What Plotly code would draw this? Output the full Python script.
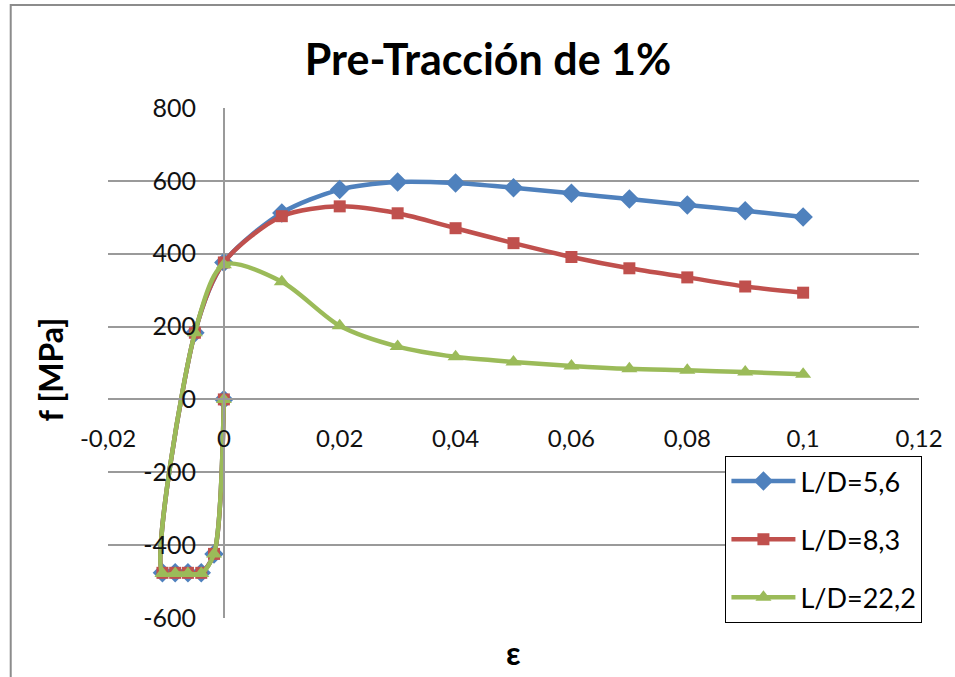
import plotly.graph_objects as go

# Strain values (the cycle starts at the origin, goes into compression,
# then reloads in tension up to 10 %)
strain = [0, -0.0017, -0.0039, -0.0062, -0.0084, -0.0106, -0.0050, 0,
          0.01, 0.02, 0.03, 0.04, 0.05, 0.06, 0.07, 0.08, 0.09, 0.10]

# Stress f [MPa] for each slenderness ratio
stress_ld_5_6 = [0, -424, -476, -476, -476, -476, 183, 376,
                 512, 576, 597, 594, 581, 566, 550, 534, 518, 501]
stress_ld_8_3 = [0, -424, -476, -476, -476, -476, 183, 376,
                 503, 530, 511, 470, 429, 391, 360, 335, 310, 293]
stress_ld_22_2 = [0, -424, -478, -478, -478, -478, 183, 370,
                  323, 202, 145, 117, 103, 92, 84, 80, 75, 69]

series_names = ["L/D=5,6", "L/D=8,3", "L/D=22,2"]
series_values = [stress_ld_5_6, stress_ld_8_3, stress_ld_22_2]
colors = ["#4F81BD", "#C0504D", "#9BBB59"]
symbols = ["diamond", "square", "triangle-up"]
marker_sizes = [15, 12, 14]

x_ticks = [-0.02, 0, 0.02, 0.04, 0.06, 0.08, 0.10, 0.12]
x_ticktext = ["-0,02", "0", "0,02", "0,04", "0,06", "0,08", "0,1", "0,12"]
y_ticks = [-600, -400, -200, 0, 200, 400, 600, 800]
y_ticktext = ["-600", "-400", "-200", "0", "200", "400", "600", "800"]

X_RANGE = [-0.02, 0.12]
Y_RANGE = [-600, 800]

FONT = "Lato"
W, H = 955, 677
ML, MR, MT, MB = 108, 30, 108, 59
plot_w = W - ML - MR
plot_h = H - MT - MB

fig = go.Figure()
for name, vals, col, sym, ms in zip(series_names, series_values, colors, symbols, marker_sizes):
    fig.add_trace(go.Scatter(
        x=strain, y=vals, name=name, mode="lines+markers",
        line=dict(color=col, width=4.5, shape="spline", smoothing=0.8),
        marker=dict(symbol=sym, size=ms, color=col),
        legendgroup=name,
    ))

# axes cross at the origin
y_axis_pos = (0 - X_RANGE[0]) / (X_RANGE[1] - X_RANGE[0])
x_axis_pos = (0 - Y_RANGE[0]) / (Y_RANGE[1] - Y_RANGE[0])

fig.update_layout(
    width=W, height=H,
    margin=dict(l=ML, r=MR, t=MT, b=MB),
    paper_bgcolor="white", plot_bgcolor="white",
    font=dict(family=FONT, color="black"),
    showlegend=True,
    legend=dict(
        x=(730 - ML) / plot_w, y=(H - MB - 456) / plot_h,
        xanchor="left", yanchor="top",
        bordercolor="black", borderwidth=1, bgcolor="white",
        font=dict(family=FONT, size=27, color="black"),
        tracegroupgap=20, itemwidth=64,
    ),
    xaxis=dict(
        range=X_RANGE, tickvals=x_ticks, ticktext=x_ticktext,
        showgrid=False, zeroline=False,
        showline=True, linecolor="#9a9a9a", linewidth=1.5,
        anchor="free", position=x_axis_pos,
        ticks="", ticklabelstandoff=18,
        tickfont=dict(family=FONT, size=24, color="#111111"),
    ),
    yaxis=dict(
        range=Y_RANGE, tickvals=y_ticks, ticktext=y_ticktext,
        showgrid=True, gridcolor="#9a9a9a", gridwidth=1.5,
        zeroline=False,
        showline=True, linecolor="#9a9a9a", linewidth=1.5,
        anchor="free", position=y_axis_pos,
        ticks="", ticklabelstandoff=22,
        tickfont=dict(family=FONT, size=25, color="#111111"),
    ),
    title=dict(
        text="<b>Pre-Tracción de 1%</b>",
        x=488 / W, xref="container", xanchor="center",
        y=1 - 60 / H, yref="container", yanchor="middle",
        font=dict(family=FONT, size=43, color="black"),
    ),
)

# axis titles
fig.add_annotation(
    text="<b>f [MPa]</b>", textangle=-90, showarrow=False,
    xref="paper", yref="paper",
    x=(50 - ML) / plot_w, y=(H - MB - 369) / plot_h,
    xanchor="center", yanchor="middle",
    font=dict(family=FONT, size=32, color="black"),
)
fig.add_annotation(
    text="<b>ε</b>", showarrow=False,
    xref="paper", yref="paper",
    x=(517 - ML) / plot_w, y=(H - MB - 652) / plot_h,
    xanchor="center", yanchor="middle",
    font=dict(family=FONT, size=32, color="black"),
)

# outer chart frame
fig.add_shape(
    type="rect", xref="paper", yref="paper",
    x0=(10 - ML) / plot_w, x1=(W + 20 - ML) / plot_w,
    y0=(H - MB - (H + 20)) / plot_h, y1=(H - MB - 5) / plot_h,
    line=dict(color="#8c8c8c", width=2), fillcolor="rgba(0,0,0,0)",
    layer="below",
)

fig.write_html("out.html")
